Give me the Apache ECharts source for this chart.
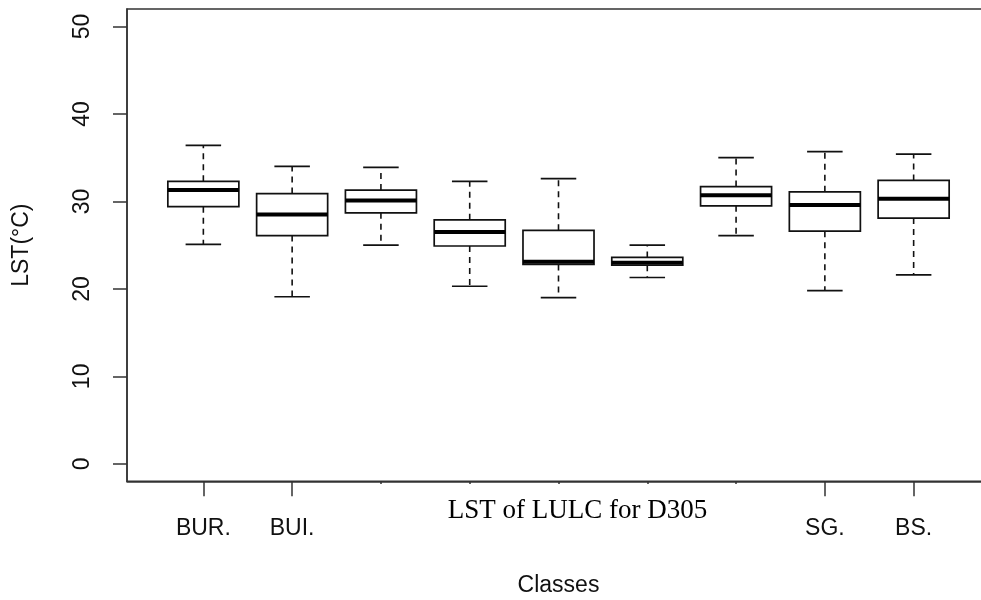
<!DOCTYPE html>
<html>
<head>
<meta charset="utf-8">
<title>LST of LULC for D305</title>
<script src="https://cdn.jsdelivr.net/npm/echarts@6/dist/echarts.min.js"></script>
<style>
  html, body { margin: 0; padding: 0; background: #fff; }
  #chart { width: 981px; height: 600px; }
</style>
</head>
<body>
<div id="chart"></div>
<script>
// Land-cover classes (only some labels are printed on the axis)
const classLabels = ['BUR.', 'BUI.', '', '', '', '', '', 'SG.', 'BS.'];

// Five-number summaries of land surface temperature (°C) per class
const whiskerLow  = [25.1, 19.1, 25.0, 20.3, 19.0, 21.3, 26.1, 19.8, 21.6];
const quartile1   = [29.4, 26.1, 28.7, 24.9, 22.8, 22.7, 29.5, 26.6, 28.1];
const medians     = [31.3, 28.5, 30.1, 26.5, 23.1, 23.0, 30.7, 29.6, 30.3];
const quartile3   = [32.3, 30.9, 31.3, 27.9, 26.7, 23.6, 31.7, 31.1, 32.4];
const whiskerHigh = [36.4, 34.0, 33.9, 32.3, 32.6, 25.0, 35.0, 35.7, 35.4];

// Y-axis tick values
const yTicks = [0, 10, 20, 30, 40, 50];

const positions = classLabels.map((_, i) => i + 1);
const boxData = positions.map((p, i) => [p, whiskerLow[i], quartile1[i], medians[i], quartile3[i], whiskerHigh[i]]);

const INK = '#111';
const AXIS = '#333';
const SANS = '"Liberation Sans", Arial, Helvetica, sans-serif';

function renderBox(params, api) {
  const x = api.value(0);
  const pLo = api.coord([x, api.value(1)]);
  const pQ1 = api.coord([x, api.value(2)]);
  const pMed = api.coord([x, api.value(3)]);
  const pQ3 = api.coord([x, api.value(4)]);
  const pHi = api.coord([x, api.value(5)]);
  const unit = api.size([1, 0])[0];
  const halfBox = unit * 0.4;
  const halfCap = unit * 0.2;
  const cx = pMed[0];
  const thin = { stroke: INK, lineWidth: 1.7, fill: null };
  const dashed = { stroke: INK, lineWidth: 1.6, lineDash: [6, 5], fill: null };
  return {
    type: 'group',
    children: [
      { type: 'line', shape: { x1: cx, y1: pQ3[1], x2: cx, y2: pHi[1] }, style: dashed },
      { type: 'line', shape: { x1: cx, y1: pQ1[1], x2: cx, y2: pLo[1] }, style: dashed },
      { type: 'line', shape: { x1: cx - halfCap, y1: pHi[1], x2: cx + halfCap, y2: pHi[1] }, style: thin },
      { type: 'line', shape: { x1: cx - halfCap, y1: pLo[1], x2: cx + halfCap, y2: pLo[1] }, style: thin },
      {
        type: 'rect',
        shape: { x: cx - halfBox, y: pQ3[1], width: halfBox * 2, height: pQ1[1] - pQ3[1] },
        style: { stroke: INK, lineWidth: 1.7, fill: '#fff' }
      },
      { type: 'line', shape: { x1: cx - halfBox, y1: pMed[1], x2: cx + halfBox, y2: pMed[1] }, style: { stroke: '#000', lineWidth: 4 } }
    ]
  };
}

const chart = echarts.init(document.getElementById('chart'), null, { renderer: 'canvas' });

chart.setOption({
  animation: false,
  backgroundColor: '#fff',
  grid: {
    left: 127, top: 9, right: -9, bottom: 118.7,
    show: true, borderColor: AXIS, borderWidth: 1.5, backgroundColor: 'transparent',
    outerBoundsMode: 'none', containLabel: false
  },
  xAxis: {
    type: 'value',
    min: 0.14, max: 9.86,
    name: 'Classes',
    nameLocation: 'middle',
    nameGap: 93,
    nameTextStyle: { fontFamily: SANS, fontSize: 23, color: INK },
    axisLine: { show: true, onZero: false, lineStyle: { color: AXIS, width: 1.5 } },
    axisTick: { show: true, length: 15, inside: false, customValues: positions, lineStyle: { color: AXIS, width: 1.5 } },
    axisLabel: {
      show: true, customValues: positions, margin: 36,
      fontFamily: SANS, fontSize: 23, color: INK,
      formatter: v => classLabels[Math.round(v) - 1] || ''
    },
    splitLine: { show: false }
  },
  yAxis: {
    type: 'value',
    min: -2, max: 52,
    name: 'LST(°C)',
    nameLocation: 'middle',
    nameRotate: 90,
    nameGap: 94,
    nameTextStyle: { fontFamily: SANS, fontSize: 23, color: INK },
    axisLine: { show: true, onZero: false, lineStyle: { color: AXIS, width: 1.5 } },
    axisTick: { show: true, length: 14, inside: false, customValues: yTicks, lineStyle: { color: AXIS, width: 1.5 } },
    axisLabel: {
      show: true, customValues: yTicks, rotate: 90, margin: 33,
      fontFamily: SANS, fontSize: 23, color: INK
    },
    splitLine: { show: false }
  },
  graphic: [
    {
      type: 'rect', z: 100,
      shape: { x: 350, y: 484, width: 420, height: 56 },
      style: { fill: '#fff' }
    },
    {
      type: 'text', z: 101,
      x: 577.5, y: 511,
      style: {
        text: 'LST of LULC for D305',
        fontFamily: '"Liberation Serif", "Times New Roman", serif',
        fontSize: 27,
        fill: '#000',
        align: 'center',
        verticalAlign: 'middle'
      }
    }
  ],
  series: [
    {
      type: 'custom',
      renderItem: renderBox,
      data: boxData,
      encode: { x: 0, y: [1, 2, 3, 4, 5] },
      clip: false
    }
  ]
});
</script>
</body>
</html>
